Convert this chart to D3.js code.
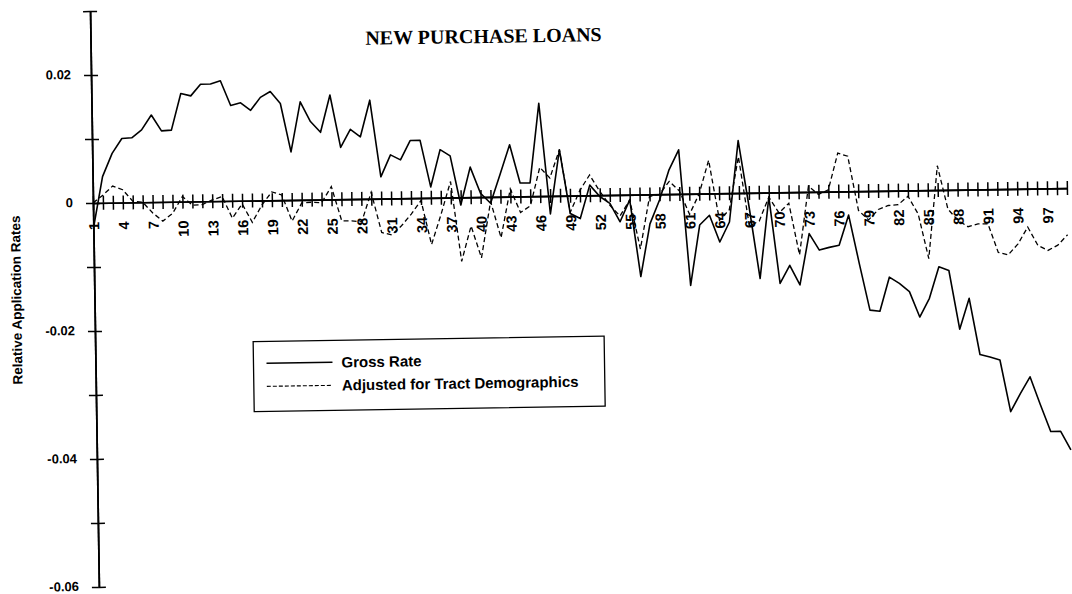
<!DOCTYPE html>
<html>
<head>
<meta charset="utf-8">
<script src="https://cdn.jsdelivr.net/npm/d3@7"></script>
<style>
  html, body { margin: 0; padding: 0; background: #fff; }
  svg { display: block; }
</style>
</head>
<body>
<svg id="chart" width="1072" height="594"></svg>
<script>
// ---- data ----
const categories = d3.range(1, 100); // 1..99
const tickLabels = [1,4,7,10,13,16,19,22,25,28,31,34,37,40,43,46,49,52,55,58,61,64,67,70,73,76,79,82,85,88,91,94,97];
const yTickValues = [-0.06,-0.05,-0.04,-0.03,-0.02,-0.01,0,0.01,0.02,0.03];
const yTickLabels = [-0.06,-0.04,-0.02,0,0.02];
const seriesNames = ["Gross Rate", "Adjusted for Tract Demographics"];
const grossRate = [
 -0.0040, 0.0041, 0.0077, 0.0100, 0.0101, 0.0113, 0.0136, 0.0111, 0.0112, 0.0169,
  0.0165, 0.0183, 0.0183, 0.0188, 0.0149, 0.0153, 0.0141, 0.0161, 0.0170, 0.0151,
  0.0075, 0.0153, 0.0122, 0.0105, 0.0163, 0.0081, 0.0109, 0.0097, 0.0154, 0.0034,
  0.0068, 0.0060, 0.0090, 0.0090, 0.0017, 0.0075, 0.0065,-0.0012, 0.0047, 0.0006,
 -0.0010, 0.0035, 0.0081, 0.0021, 0.0021, 0.0145,-0.0028, 0.0072,-0.0028,-0.0036,
  0.0016,-0.0002,-0.0013,-0.0042,-0.0008,-0.0128,-0.0046,-0.0009, 0.0038, 0.0069,
 -0.0143,-0.0049,-0.0034,-0.0076,-0.0045, 0.0082,-0.0022,-0.0134,-0.0007,-0.0142,
 -0.0114,-0.0145,-0.0065,-0.0091,-0.0087,-0.0084,-0.0037,-0.0113,-0.0186,-0.0188,
 -0.0135,-0.0145,-0.0158,-0.0198,-0.0169,-0.0120,-0.0126,-0.0218,-0.0170,-0.0258,
 -0.0262,-0.0267,-0.0348,-0.0320,-0.0294,-0.0338,-0.0380,-0.0380,-0.0409
];
const adjustedRate = [
  0.0000, 0.0012, 0.0026, 0.0020, 0.0002, 0.0000,-0.0017,-0.0030,-0.0018, 0.0008,
 -0.0006,-0.0005, 0.0002, 0.0007,-0.0027,-0.0005,-0.0034,-0.0007, 0.0013, 0.0008,
 -0.0033,-0.0005,-0.0004,-0.0005, 0.0020,-0.0034,-0.0034,-0.0036, 0.0010,-0.0053,
 -0.0057,-0.0043,-0.0025,-0.0004,-0.0073,-0.0026, 0.0025,-0.0100,-0.0045,-0.0095,
 -0.0007,-0.0064, 0.0012,-0.0025,-0.0015, 0.0045, 0.0028, 0.0072,-0.0026, 0.0008,
  0.0032, 0.0006,-0.0016,-0.0033,-0.0008,-0.0085,-0.0003, 0.0000, 0.0020, 0.0005,
 -0.0032, 0.0000, 0.0052,-0.0042,-0.0026, 0.0057,-0.0052,-0.0044,-0.0007,-0.0032,
 -0.0017,-0.0098, 0.0009,-0.0004, 0.0003, 0.0060, 0.0055,-0.0030,-0.0045,-0.0029,
 -0.0023,-0.0022,-0.0009,-0.0037,-0.0107, 0.0038,-0.0030,-0.0048,-0.0058,-0.0054,
 -0.0054,-0.0099,-0.0103,-0.0086,-0.0060,-0.0089,-0.0097,-0.0089,-0.0073
];

// ---- drawing ----
const svg = d3.select("#chart");
const root = svg.append("g").attr("transform", "rotate(-0.88, 93, 203)");

const x = d3.scaleLinear().domain([1, 99]).range([93, 1067]);
const y = d3.scaleLinear().domain([-0.06, 0.03]).range([587, 11]);

const fontSans = "'Liberation Sans', Arial, sans-serif";
const labelSet = new Set(tickLabels);
const yLabelSet = new Set(yTickLabels.map(v => v.toFixed(2)));
const fmtY = v => (Math.abs(v) < 1e-9 ? "0" : v.toFixed(2));

// y axis (cross ticks)
const yAxisL = d3.axisLeft(y).tickValues(yTickValues).tickSize(7).tickSizeOuter(0).tickPadding(13)
  .tickFormat(v => yLabelSet.has(v.toFixed(2)) ? fmtY(v) : "");
const yAxisR = d3.axisRight(y).tickValues(yTickValues).tickSize(7).tickSizeOuter(0).tickFormat("");
const gyL = root.append("g").attr("transform", `translate(${x(1)},0)`).call(yAxisL);
const gyR = root.append("g").attr("transform", `translate(${x(1)},0)`).call(yAxisR);
gyL.selectAll("text").attr("dy", "0.25em")
  .style("font-family", fontSans).style("font-weight", "bold").style("font-size", "13px").attr("fill", "#000");

// x axis (cross ticks) at y=0
const xAxisB = d3.axisBottom(x).tickValues(categories).tickSize(7).tickSizeOuter(0)
  .tickFormat(d => labelSet.has(d) ? String(d) : "");
const xAxisT = d3.axisTop(x).tickValues(categories).tickSize(7).tickSizeOuter(0).tickFormat("");
const gxB = root.append("g").attr("transform", `translate(0,${y(0)})`).call(xAxisB);
const gxT = root.append("g").attr("transform", `translate(0,${y(0)})`).call(xAxisT);
gxB.selectAll("text")
  .attr("x", 0).attr("y", 0).attr("dy", "0.36em")
  .attr("transform", "translate(0,19) rotate(-90)")
  .style("text-anchor", "end")
  .style("font-family", fontSans).style("font-weight", "bold").style("font-size", "14.5px")
  .attr("fill", "#000");

[gyL, gyR, gxB, gxT].forEach(g => {
  g.selectAll("path.domain").attr("stroke", "#000").attr("stroke-width", 1.7);
  g.selectAll(".tick line").attr("stroke", "#000").attr("stroke-width", 1.5);
});

// lines
const line = d3.line().x((d, i) => x(categories[i])).y(d => y(d));
root.append("path").datum(grossRate)
  .attr("d", line).attr("fill", "none").attr("stroke", "#000").attr("stroke-width", 1.6)
  .attr("stroke-linejoin", "round");
root.append("path").datum(adjustedRate)
  .attr("d", line).attr("fill", "none").attr("stroke", "#000").attr("stroke-width", 1.3)
  .attr("stroke-dasharray", "5,3");

// title
root.append("text").attr("x", 486).attr("y", 49).attr("text-anchor", "middle")
  .style("font-family", "'Liberation Serif', 'Times New Roman', serif")
  .style("font-weight", "bold").style("font-size", "20px")
  .text("NEW PURCHASE LOANS");

// y axis title
root.append("text")
  .attr("transform", "translate(15,299) rotate(-90)")
  .attr("text-anchor", "middle").attr("dy", "0.35em")
  .style("font-family", fontSans).style("font-weight", "bold").style("font-size", "13.5px")
  .text("Relative Application Rates");

// legend
const lg = root.append("g");
lg.append("rect").attr("x", 251).attr("y", 344).attr("width", 351).attr("height", 70)
  .attr("fill", "#fff").attr("stroke", "#000").attr("stroke-width", 1.3);
const legendRows = [
  { name: seriesNames[0], dash: null, w: 1.5 },
  { name: seriesNames[1], dash: "4,2", w: 1.1 }
];
legendRows.forEach((r, i) => {
  const yy = 366 + i * 23;
  lg.append("line").attr("x1", 264).attr("x2", 330).attr("y1", yy).attr("y2", yy)
    .attr("stroke", "#000").attr("stroke-width", r.w).attr("stroke-dasharray", r.dash);
  lg.append("text").attr("x", 339).attr("y", yy).attr("dy", "0.35em")
    .style("font-family", fontSans).style("font-weight", "bold").style("font-size", "15px")
    .text(r.name);
});
</script>
</body>
</html>
